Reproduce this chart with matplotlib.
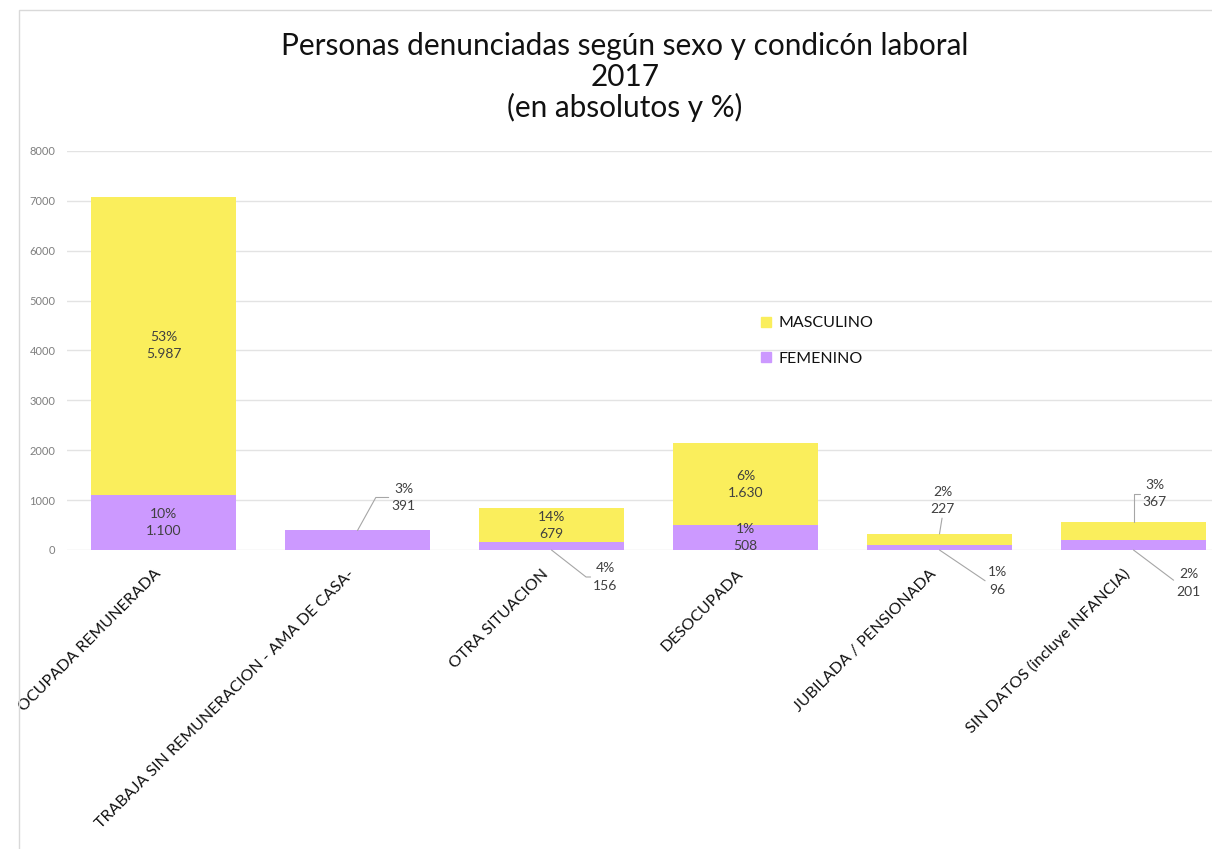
import matplotlib
matplotlib.use("Agg")
from matplotlib import pyplot as plt
from matplotlib.patches import Rectangle, Patch

# data
categorias = ["OCUPADA REMUNERADA", "TRABAJA SIN REMUNERACION - AMA DE CASA-",
              "OTRA SITUACION", "DESOCUPADA", "JUBILADA / PENSIONADA",
              "SIN DATOS (incluye INFANCIA)"]
femenino = [1100, 391, 156, 508, 96, 201]
masculino = [5987, 0, 679, 1630, 227, 367]
pct_fem = [10, 3, 4, 1, 1, 2]
pct_masc = [53, None, 14, 6, 2, 3]
titulo = ["Personas denunciadas según sexo y condicón laboral", "2017",
          "(en absolutos y %)"]

plt.rcParams['font.family'] = ['Lato', 'DejaVu Sans']

AMARILLO = "#FAEE5C"
LILA = "#CC99FF"
TEXTO = "#404040"

def fmt(v):
    return "{:,}".format(v).replace(",", ".")

fig = plt.figure(figsize=(12.12, 8.49), dpi=100)
# chart border (cut by the screenshot on the right and bottom)
fig.patches.append(Rectangle((19 / 1212, -0.05), 1.2, 0.05 + 1 - 10 / 849,
                             transform=fig.transFigure, fill=False,
                             edgecolor="#d9d9d9", lw=1))

ax = fig.add_axes([66.5 / 1212, 299 / 849, 6 * 194 / 1212, 399 / 849])
x = list(range(len(categorias)))
ax.bar(x, femenino, width=0.75, color=LILA, label="FEMENINO", zorder=2)
ax.bar(x, masculino, width=0.75, bottom=femenino, color=AMARILLO,
       label="MASCULINO", zorder=2)

ax.set_xlim(-0.5, len(categorias) - 0.5)
ax.set_ylim(0, 8000)
ax.set_yticks(range(0, 8001, 1000))
ax.grid(axis="y", color="#e3e3e3", lw=1, zorder=0)
ax.set_axisbelow(True)
for s in ax.spines.values():
    s.set_visible(False)
ax.tick_params(axis="both", length=0)
ax.tick_params(axis="y", labelsize=8, labelcolor="#7f7f7f", pad=8)
ax.set_xticks(x)
ax.set_xticklabels(categorias, rotation=45, ha="right", va="top",
                   fontsize=11.5, color="#111111")
ax.tick_params(axis="x", pad=12)

# labels inside the bars
dentro_f = [0, 3]
dentro_m = [0, 2, 3]
for i in dentro_f:
    ax.text(i, femenino[i] / 2, f"{pct_fem[i]}%\n{fmt(femenino[i])}",
            ha="center", va="center", fontsize=10, color=TEXTO,
            linespacing=1.5, zorder=3)
for i in dentro_m:
    ax.text(i, femenino[i] + masculino[i] / 2, f"{pct_masc[i]}%\n{fmt(masculino[i])}",
            ha="center", va="center", fontsize=10, color=TEXTO,
            linespacing=1.5, zorder=3)

# labels outside with leader lines: (serie, index, offset px, relpos, connection)
fuera = [
    ("f", 1, (46, 33), (0, 0.5), "angle,angleA=0,angleB=61,rad=0", "top"),
    ("f", 2, (54, -27), (0, 0.5), "angle,angleA=0,angleB=-38,rad=0", "base"),
    ("m", 4, (3, 33), (0.5, 0), "arc3", "top"),
    ("f", 4, (58, -31), (0, 0.5), "angle,angleA=0,angleB=-34,rad=0", "base"),
    ("m", 5, (21, 28), (0, 0.5), "angle,angleA=0,angleB=90,rad=0", "top"),
    ("f", 5, (55, -33), (0, 0.5), "angle,angleA=0,angleB=-37,rad=0", "base"),
]
for serie, i, off, rel, con, donde in fuera:
    if serie == "f":
        txt = f"{pct_fem[i]}%\n{fmt(femenino[i])}"
    else:
        txt = f"{pct_masc[i]}%\n{fmt(masculino[i])}"
    y = femenino[i] + masculino[i] if donde == "top" else 0
    ax.annotate(txt, xy=(i, y), xytext=off, textcoords="offset pixels",
                ha="center", va="center", fontsize=10, color=TEXTO,
                linespacing=1.5, zorder=3,
                arrowprops=dict(arrowstyle="-", color="#a6a6a6", lw=0.8,
                                relpos=rel, connectionstyle=con,
                                shrinkA=0, shrinkB=0))

handles = [Patch(color=AMARILLO, label="MASCULINO"),
           Patch(color=LILA, label="FEMENINO")]
fig.legend(handles=handles, loc="upper left",
           bbox_to_anchor=(747 / 1212, 1 - 302 / 849), frameon=False,
           fontsize=11.5, handlelength=0.6, handleheight=0.6,
           handletextpad=0.5, labelspacing=1.35, labelcolor="#111111")

# title, one line at a time so the spacing matches
for linea, base in zip(titulo, [55, 86, 117]):
    fig.text(625 / 1212, 1 - base / 849, linea, ha="center", va="baseline",
             fontsize=21.4, color="#111111")

fig.savefig("out.png", dpi=100)
